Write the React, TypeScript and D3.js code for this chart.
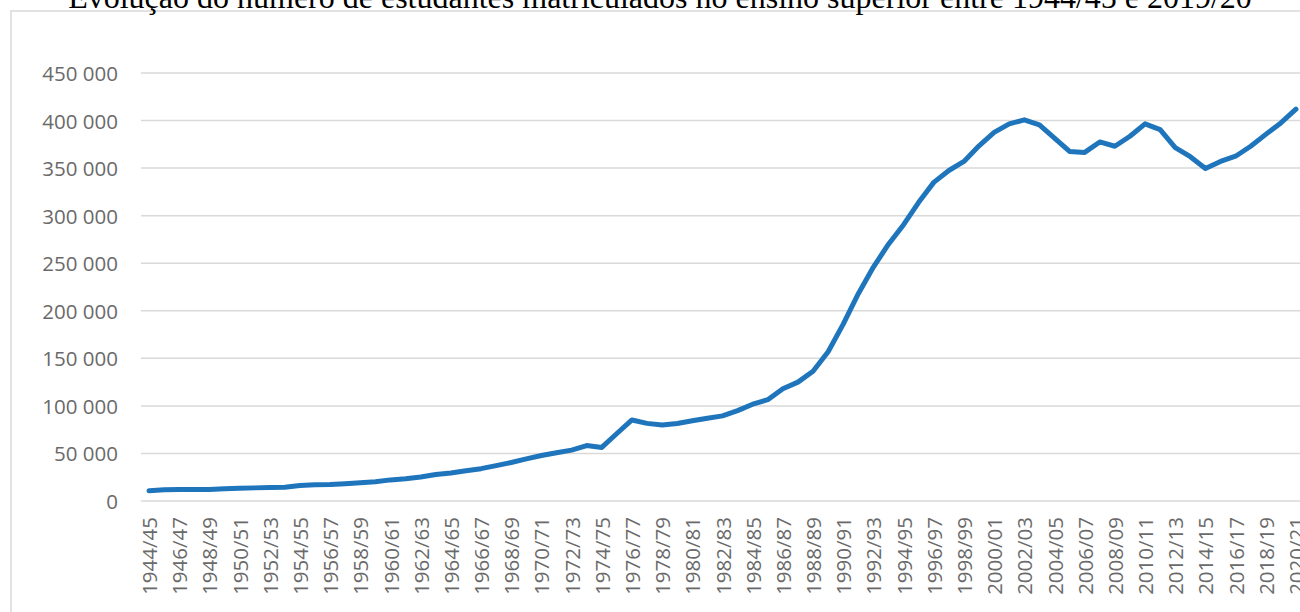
import React from "react";
import * as d3 from "d3";

const TITLE = "Evolução do número de estudantes matriculados no ensino superior entre 1944/45 e 2019/20";

const categories: string[] = [
  "1944/45", "1945/46", "1946/47", "1947/48", "1948/49", "1949/50", "1950/51", "1951/52",
  "1952/53", "1953/54", "1954/55", "1955/56", "1956/57", "1957/58", "1958/59", "1959/60",
  "1960/61", "1961/62", "1962/63", "1963/64", "1964/65", "1965/66", "1966/67", "1967/68",
  "1968/69", "1969/70", "1970/71", "1971/72", "1972/73", "1973/74", "1974/75", "1975/76",
  "1976/77", "1977/78", "1978/79", "1979/80", "1980/81", "1981/82", "1982/83", "1983/84",
  "1984/85", "1985/86", "1986/87", "1987/88", "1988/89", "1989/90", "1990/91", "1991/92",
  "1992/93", "1993/94", "1994/95", "1995/96", "1996/97", "1997/98", "1998/99", "1999/00",
  "2000/01", "2001/02", "2002/03", "2003/04", "2004/05", "2005/06", "2006/07", "2007/08",
  "2008/09", "2009/10", "2010/11", "2011/12", "2012/13", "2013/14", "2014/15", "2015/16",
  "2016/17", "2017/18", "2018/19", "2019/20", "2020/21",
];

const students: number[] = [
  10800, 11800, 12000, 12000, 12200, 12800, 13300, 13800,
  14200, 14500, 16300, 17000, 17400, 18200, 19200, 20300,
  22200, 23500, 25200, 27800, 29500, 31800, 34000, 37200,
  40500, 44300, 47800, 50800, 53500, 58300, 56300, 71000,
  85200, 81600, 79800, 81400, 84300, 87000, 89500, 95000,
  101800, 106500, 118000, 125000, 136500, 157000, 186000, 218000,
  246000, 270000, 290500, 314000, 335000, 347500, 357000, 373500,
  387500, 396500, 400800, 395500, 381500, 367500, 366500, 377500,
  373000, 383500, 396500, 390500, 371500, 362000, 349500, 357000,
  362500, 373000, 385500, 397500, 412000,
];

const yTicks: number[] = [0, 50000, 100000, 150000, 200000, 250000, 300000, 350000, 400000, 450000];

const W = 1300;
const H = 612;

export default function App() {
  const x = d3.scalePoint<string>().domain(categories).range([141.5, 1303.5]).padding(0.5);
  const y = d3.scaleLinear().domain([0, 450000]).range([501, 73]);
  const fmt = (v: number) => d3.format(",")(v).replace(/,/g, " ");
  const line = d3
    .line<number>()
    .x((_, i) => x(categories[i]) as number)
    .y((d) => y(d));
  const labelFont = "'Open Sans', 'Noto Sans', sans-serif";

  return (
    <svg
      width={W}
      height={H}
      style={{ position: "absolute", left: 0, top: 0, background: "#fff" }}
    >
      <rect x={0} y={0} width={W} height={H} fill="#fff" />
      <rect x={11} y={11} width={1320} height={700} fill="none" stroke="#d9d9d9" strokeWidth={1.5} />
      <text
        x={660}
        y={8}
        textAnchor="middle"
        fontFamily="'Liberation Serif', 'Times New Roman', serif"
        fontSize={32}
        fill="#000"
      >
        {TITLE}
      </text>
      {yTicks.map((t) => (
        <g key={t}>
          <line x1={141} x2={1303} y1={y(t)} y2={y(t)} stroke="#d9d9d9" strokeWidth={1.5} />
          <text
            x={118}
            y={y(t)}
            textAnchor="end"
            dominantBaseline="central"
            fontFamily={labelFont}
            fontSize={20.5}
            fill="#6a6a6a"
          >
            {fmt(t)}
          </text>
        </g>
      ))}
      {categories.map((c, i) =>
        i % 2 === 0 ? (
          <text
            key={c}
            transform={`translate(${x(c)},517) rotate(-90)`}
            textAnchor="end"
            dominantBaseline="central"
            fontFamily={labelFont}
            fontSize={20.5}
            fill="#6a6a6a"
          >
            {c}
          </text>
        ) : null
      )}
      <path
        d={line(students) || ""}
        fill="none"
        stroke="#1f75bc"
        strokeWidth={5}
        strokeLinejoin="round"
        strokeLinecap="round"
      />
    </svg>
  );
}
